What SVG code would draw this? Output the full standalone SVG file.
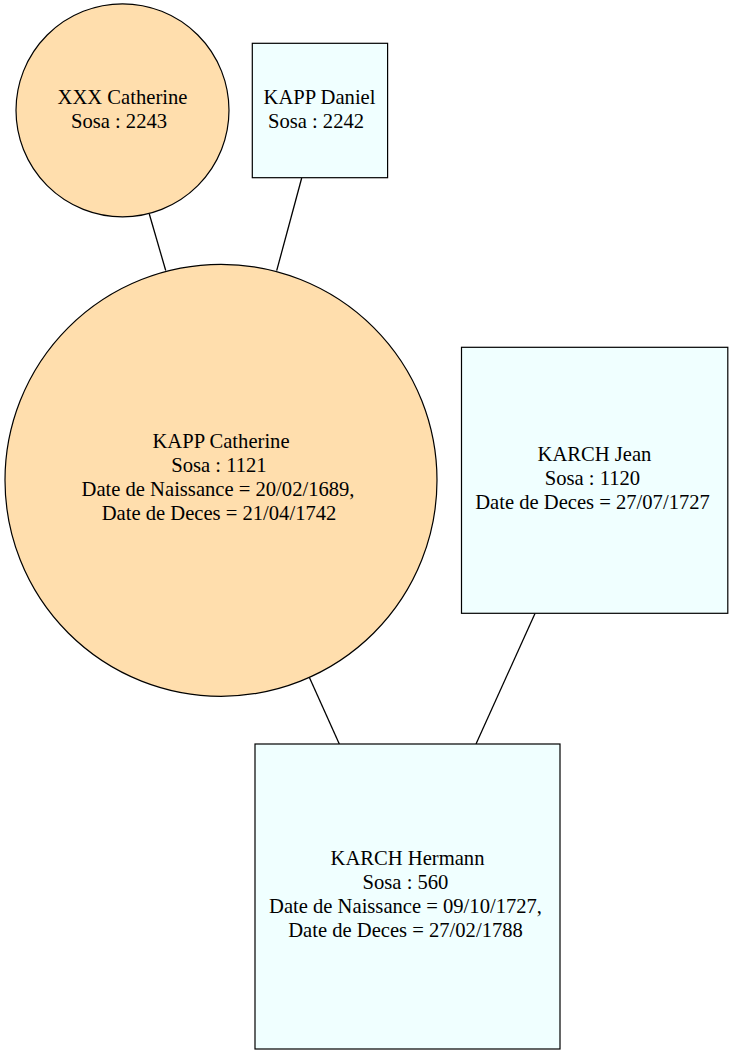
<svg xmlns="http://www.w3.org/2000/svg" width="733" height="1055" viewBox="0 0 733 1055">
<style>
.c{fill:#ffdead;stroke:#000;stroke-width:1.2}
.b{fill:#f0ffff;stroke:#000;stroke-width:1.2}
.e{stroke:#000;stroke-width:1.3;fill:none}
text{font-family:"Liberation Serif","Times New Roman",serif;font-size:20.6px;fill:#000;text-anchor:middle}
</style>
<rect width="733" height="1055" fill="#fff"/>
<g id="edges">
<line class="e" x1="149.3" y1="214" x2="165.7" y2="270.5"/>
<line class="e" x1="301.7" y1="178" x2="276.7" y2="270.7"/>
<line class="e" x1="309.3" y1="677.3" x2="339.3" y2="744"/>
<line class="e" x1="535" y1="613.5" x2="476" y2="744"/>
</g>
<g id="xxx_catherine">
<circle class="c" cx="122.5" cy="110.3" r="106.5"/>
<text x="122.5" y="103.5">XXX Catherine</text>
<text x="119" y="127.5">Sosa : 2243</text>
</g>
<g id="kapp_daniel">
<rect class="b" x="252.3" y="43.3" width="135.3" height="134.4"/>
<text x="319.5" y="103.5">KAPP Daniel</text>
<text x="316" y="127.5">Sosa : 2242</text>
</g>
<g id="kapp_catherine">
<circle class="c" cx="221" cy="480.3" r="216"/>
<text x="221" y="448">KAPP Catherine</text>
<text x="219" y="472">Sosa : 1121</text>
<text x="218" y="496">Date de Naissance = 20/02/1689,</text>
<text x="219" y="520">Date de Deces = 21/04/1742</text>
</g>
<g id="karch_jean">
<rect class="b" x="461.5" y="347.3" width="266.3" height="266"/>
<text x="594.5" y="460.7">KARCH Jean</text>
<text x="592.5" y="484.7">Sosa : 1120</text>
<text x="592.5" y="508.7">Date de Deces = 27/07/1727</text>
</g>
<g id="karch_hermann">
<rect class="b" x="255" y="744" width="305" height="305"/>
<text x="407.5" y="865">KARCH Hermann</text>
<text x="405.5" y="889">Sosa : 560</text>
<text x="405.5" y="913">Date de Naissance = 09/10/1727,</text>
<text x="405.5" y="937">Date de Deces = 27/02/1788</text>
</g>
</svg>
